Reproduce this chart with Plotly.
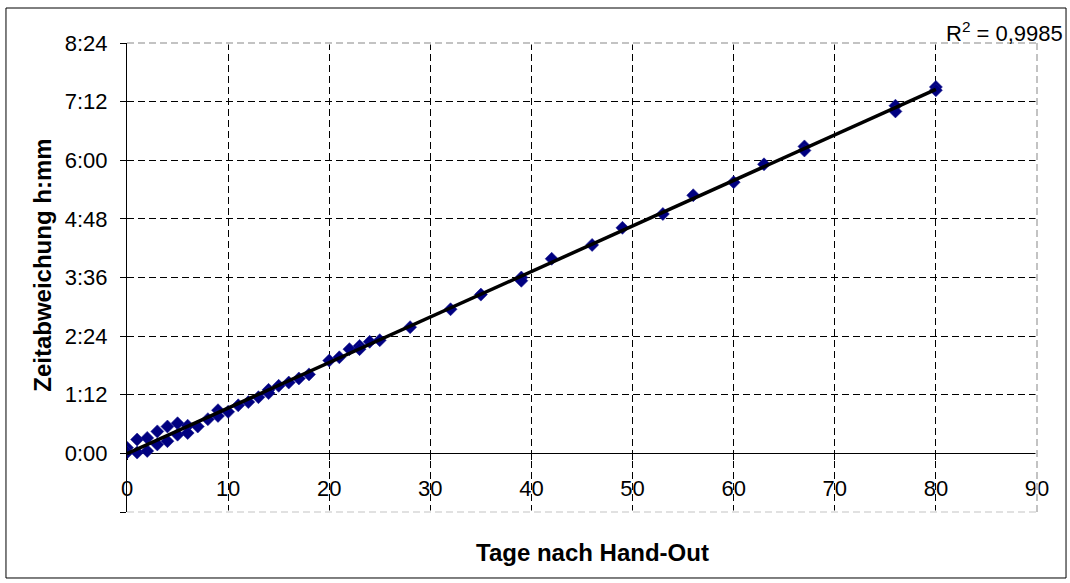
import numpy as np
import plotly.graph_objects as go

# ---- data ----
days = [0, 0, 1, 1, 2, 2, 3, 3, 4, 4, 5, 5, 6, 6, 7, 8, 9, 9, 10, 11, 12, 13, 14, 14,
        15, 16, 17, 18, 20, 21, 22, 23, 23, 24, 25, 28, 32, 35, 39, 39, 42, 46, 49,
        53, 56, 60, 63, 67, 67, 76, 76, 80, 80]
minutes = [7, 1, 17, 1, 19, 3, 27, 11, 33, 15, 37, 23, 34, 25, 33, 42, 53, 46, 51, 59,
           63, 69, 78, 74, 83, 87, 92, 97, 114, 118, 128, 132, 128, 137, 139, 155, 177,
           195, 216, 212, 239, 256, 277, 294, 317, 333, 355, 377, 372, 427, 420, 450, 446]

y_range = [-72, 504]
y_tick_vals = [0, 72, 144, 216, 288, 360, 432, 504]
y_tick_text = ["0:00", "1:12", "2:24", "3:36", "4:48", "6:00", "7:12", "8:24"]
x_tick_vals = [0, 10, 20, 30, 40, 50, 60, 70, 80, 90]
r2_label = "R<sup>2</sup> = 0,9985"

x_title = "Tage nach Hand-Out"
y_title = "Zeitabweichung h:mm"

# ---- linear trend line from the data ----
slope, intercept = np.polyfit(days, minutes, 1)
tx = np.array([min(days), max(days)])
ty = slope * tx + intercept

FONT = "Liberation Sans, Arial, sans-serif"

fig = go.Figure()
fig.add_trace(go.Scatter(
    x=days, y=minutes, mode="markers",
    marker=dict(symbol="diamond", size=10, color="#000080",
                line=dict(color="#1a1a90", width=0.6)),
    showlegend=False, hoverinfo="skip"))
fig.add_trace(go.Scatter(
    x=tx, y=ty, mode="lines",
    line=dict(color="black", width=3.5),
    showlegend=False, hoverinfo="skip"))

grid_dash = "7px,4px"

fig.update_layout(
    width=1070, height=583,
    margin=dict(l=127, r=33, t=43, b=71, pad=0),
    paper_bgcolor="white", plot_bgcolor="white",
    font=dict(family=FONT, size=22, color="black"),
    xaxis=dict(
        range=[0, 90], tickvals=x_tick_vals,
        anchor="free", position=0.125,
        showline=True, linecolor="black", linewidth=1,
        ticks="outside", ticklen=6, tickcolor="black",
        ticklabelstandoff=9,
        showgrid=True, gridcolor="black", gridwidth=1, griddash=grid_dash,
        zeroline=False, layer="below traces", automargin=False,
        tickfont=dict(size=22),
    ),
    yaxis=dict(
        range=y_range, tickvals=y_tick_vals, ticktext=y_tick_text,
        showline=True, linecolor="black", linewidth=1,
        ticks="outside", ticklen=6, tickcolor="black",
        ticklabelstandoff=8,
        showgrid=True, gridcolor="black", gridwidth=1, griddash=grid_dash,
        minor=dict(tickvals=[y_range[0]], ticks="outside", ticklen=6,
                   tickcolor="black", showgrid=False),
        zeroline=False, layer="below traces", automargin=False,
        tickfont=dict(size=22),
    ),
    annotations=[
        dict(text=x_title, xref="paper", yref="paper", x=0.511, y=-0.0853,
             xanchor="center", yanchor="middle", showarrow=False,
             font=dict(size=24, family=FONT, color="black", weight="bold")),
        dict(text=y_title, xref="paper", yref="paper", x=-0.0923, y=0.525,
             xanchor="center", yanchor="middle", showarrow=False, textangle=-90,
             font=dict(size=24, family=FONT, color="black", weight="bold")),
        dict(text=r2_label, xref="paper", yref="paper", x=1.0308, y=1.0235,
             xanchor="right", yanchor="middle", showarrow=False,
             font=dict(size=22, family=FONT, color="black")),
    ],
    shapes=[
        # cover grid lines on the plot-area edges, then draw the grey dashed border
        dict(type="line", xref="x domain", yref="y domain", x0=0, x1=1, y0=1, y1=1,
             line=dict(color="white", width=3), layer="above"),
        dict(type="line", xref="x domain", yref="y domain", x0=1, x1=1, y0=0, y1=1,
             line=dict(color="white", width=3), layer="above"),
        dict(type="line", xref="x domain", yref="y domain", x0=0, x1=1, y0=0, y1=0,
             line=dict(color="white", width=3), layer="above"),
        dict(type="line", xref="x domain", yref="y domain", x0=0, x1=1, y0=1, y1=1,
             line=dict(color="#b0b0b0", width=1.5, dash=grid_dash), layer="above"),
        dict(type="line", xref="x domain", yref="y domain", x0=1, x1=1, y0=0, y1=1,
             line=dict(color="#b0b0b0", width=1.5, dash=grid_dash), layer="above"),
        dict(type="line", xref="x domain", yref="y domain", x0=0, x1=1, y0=0, y1=0,
             line=dict(color="#d8d8d8", width=1.5, dash=grid_dash), layer="above"),
        # outer chart border
        dict(type="rect", xref="paper", yref="paper",
             x0=-0.133, x1=1.0319, y0=-0.1407, y1=1.0746,
             line=dict(color="black", width=1), fillcolor="rgba(0,0,0,0)",
             layer="above"),
    ],
)

fig.write_html("out.html", config={"displayModeBar": False},
               post_script="document.body.style.margin='0';")
